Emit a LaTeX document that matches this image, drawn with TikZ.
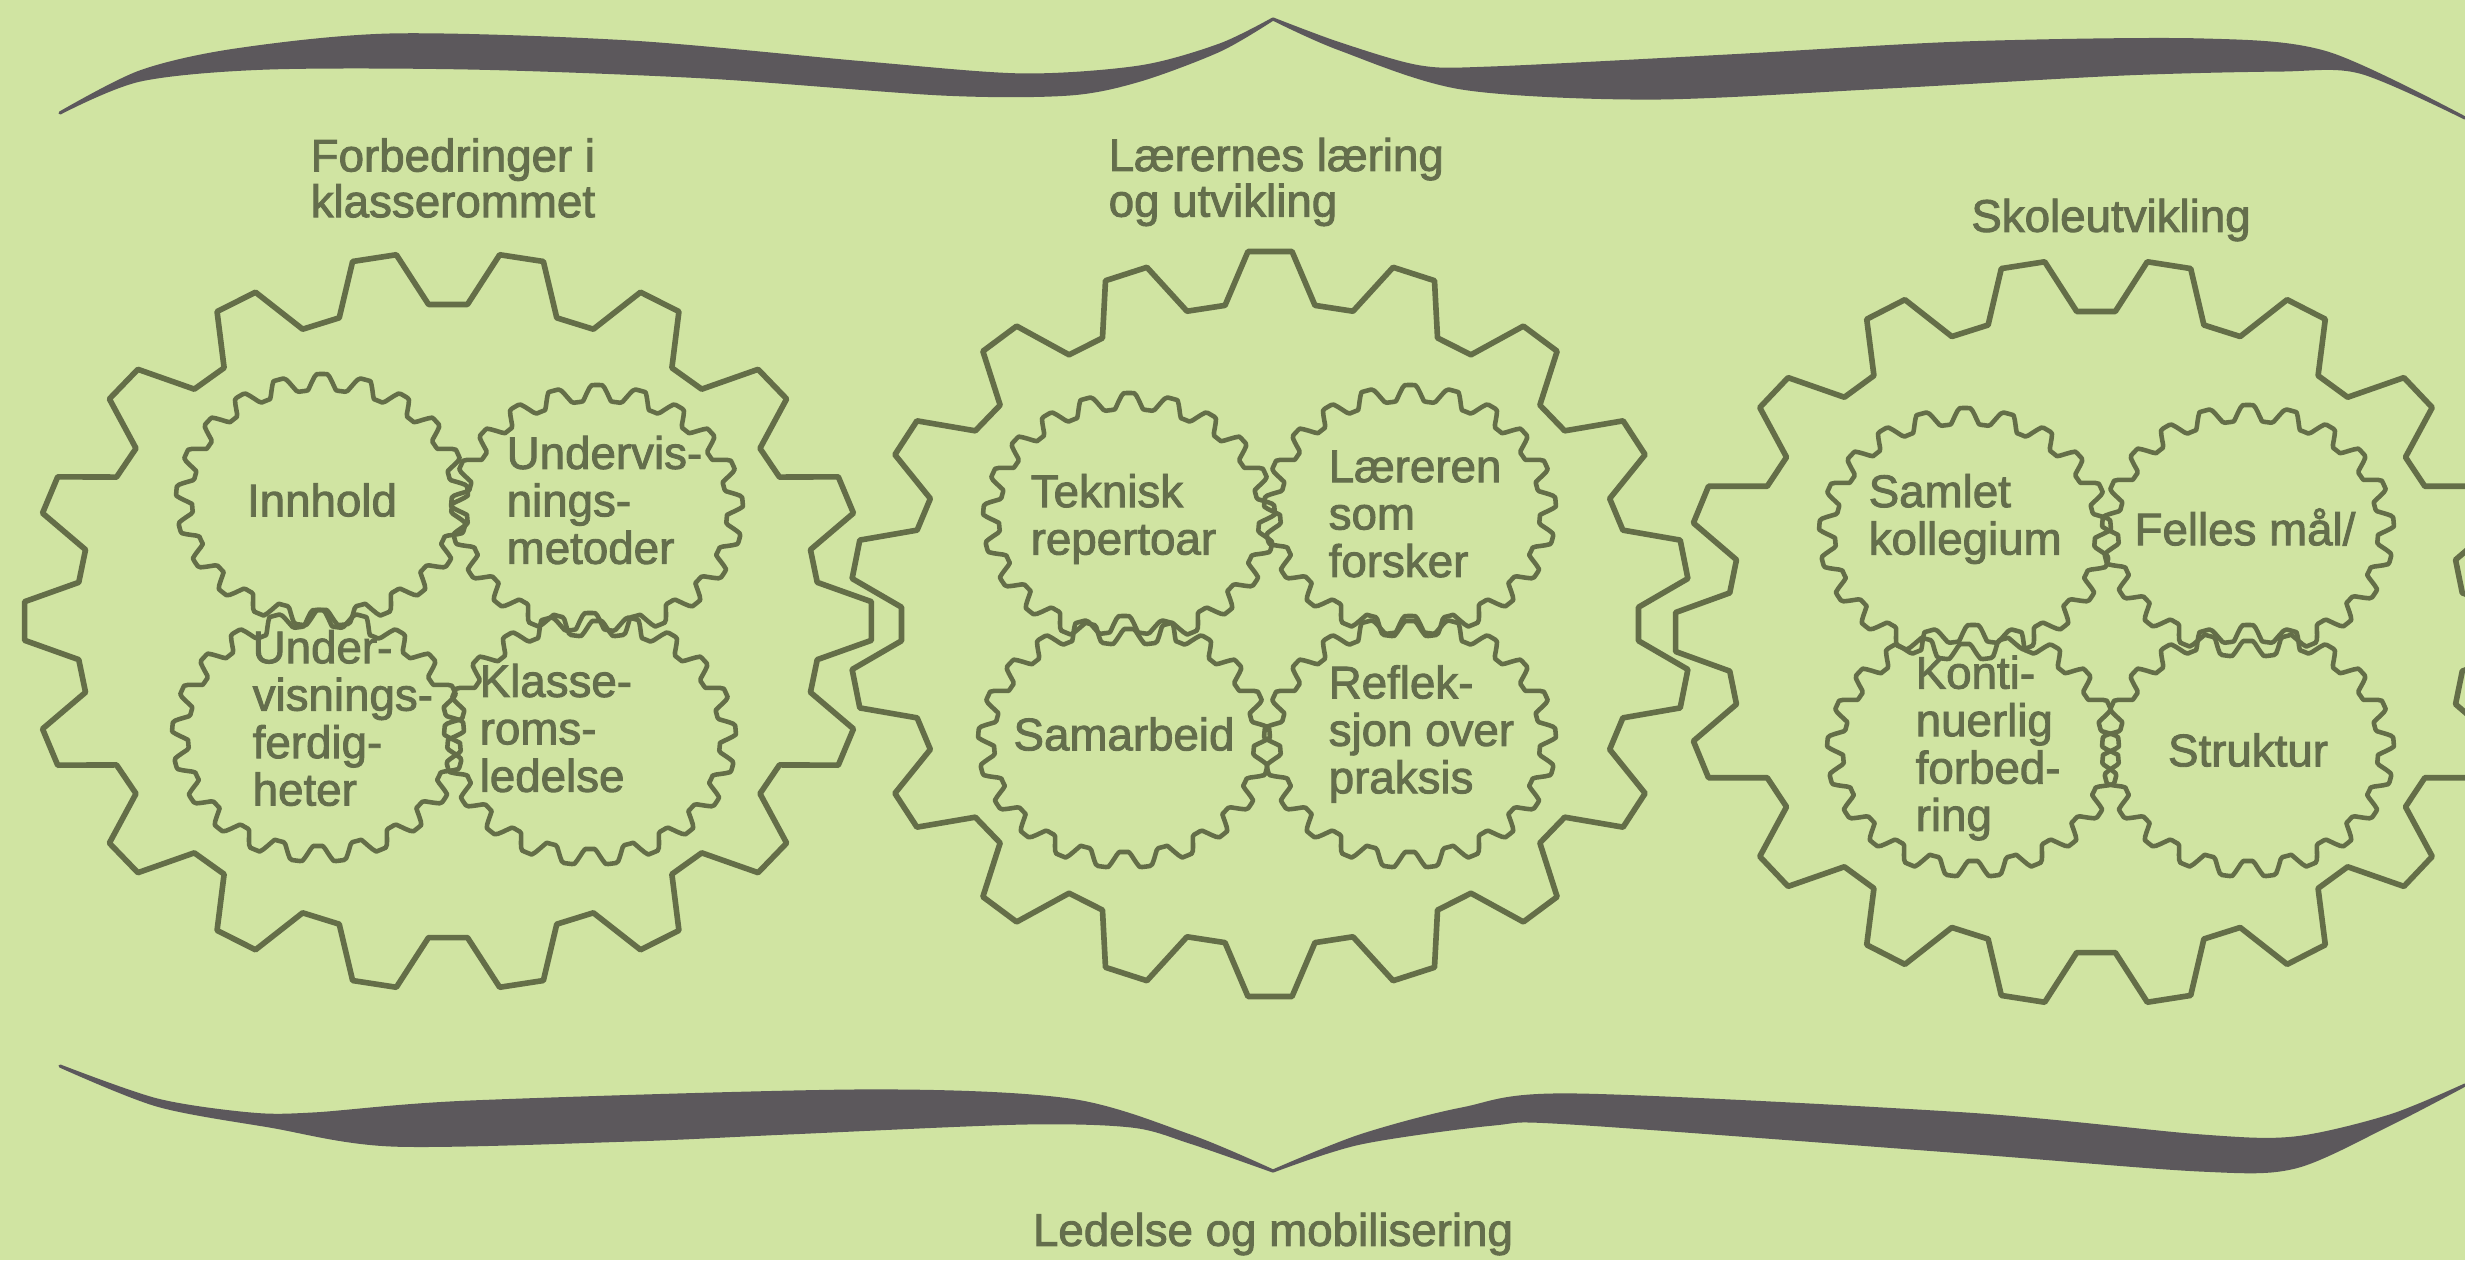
\documentclass[tikz,border=0pt]{standalone}
\usepackage{fontspec}
\setmainfont{Liberation Sans}
\newfontfamily\blurfont[FakeBold=2]{Liberation Sans}
\usetikzlibrary{positioning, calc}

\definecolor{bgcol}{RGB}{208,228,162}
\definecolor{inkcol}{RGB}{100,110,72}
\definecolor{textcol}{RGB}{100,110,76}
\definecolor{bracecol}{RGB}{92,88,92}

\tikzset{
  gearline/.style={draw=inkcol, line width=1.6pt, line join=round},
  cogline/.style={draw=inkcol, line width=1.3pt, line join=round},
  headtxt/.style={text=textcol, font=\blurfont\fontsize{13}{13}\selectfont, align=left, inner sep=0pt},
  cogtxt/.style={text=textcol, font=\blurfont\fontsize{13}{13.5}\selectfont, align=left, inner sep=0pt},
  bracefill/.style={fill=bracecol, draw=bracecol, line width=0.9pt, line join=round},
}

% big gear: centre x, centre y, x radius, y radius, offset angle
\newcommand{\biggear}[5]{%
  \pgfmathsetmacro\rxo{#3}\pgfmathsetmacro\ryo{#4}%
  \pgfmathsetmacro\rxi{#3-0.52}\pgfmathsetmacro\ryi{#4-0.52}%
  \begin{scope}[shift={(#1,#2)}]
    \draw[gearline] ({#5-7}:\rxi cm and \ryi cm)
      \foreach \a in {0,20,...,340}{
        -- ({#5+\a-7}:\rxi cm and \ryi cm) -- ({#5+\a-3}:\rxo cm and \ryo cm)
        -- ({#5+\a+3}:\rxo cm and \ryo cm) -- ({#5+\a+7}:\rxi cm and \ryi cm)
      } -- cycle;
  \end{scope}
}

\begin{document}
\begin{tikzpicture}
        % the background
        \useasboundingbox (0,0) rectangle (24.65,12.6);
        \fill[bgcol] (0,0) rectangle (24.65,12.6);
        \clip (0,0) rectangle (24.65,12.6);

        % top brace
        \filldraw[bracefill] plot[smooth] coordinates {(0.60,11.47) (1.40,11.88) (2.36,12.10) (3.93,12.25) (6.29,12.18) (8.65,11.97) (10.22,11.85) (11.40,11.93) (12.20,12.15) (12.73,12.41)}
          -- plot[smooth] coordinates {(12.73,12.41) (12.20,12.10) (11.40,11.80) (10.69,11.66) (9.43,11.66) (7.07,11.83) (4.72,11.92) (2.67,11.92) (1.40,11.80) (0.60,11.47)} -- cycle;
        \filldraw[bracefill] plot[smooth] coordinates {(12.73,12.41) (13.40,12.16) (14.20,11.93) (14.93,11.92) (17.29,12.04) (19.65,12.17) (22.01,12.20) (23.27,12.07) (24.65,11.42)}
          -- plot[smooth] coordinates {(24.65,11.42) (23.60,11.88) (22.79,11.90) (21.22,11.86) (18.86,11.73) (16.51,11.62) (14.62,11.72) (13.40,12.11) (12.73,12.41)} -- cycle;

        % bottom brace
        \filldraw[bracefill] plot[smooth] coordinates {(0.60,1.94) (1.57,1.60) (2.50,1.46) (3.14,1.46) (4.72,1.58) (8.65,1.69) (10.69,1.60) (11.90,1.24) (12.73,0.89)}
          -- plot[smooth] coordinates {(12.73,0.89) (11.90,1.18) (11.32,1.34) (10.22,1.37) (7.86,1.27) (6.29,1.20) (3.93,1.15) (2.70,1.34) (1.57,1.55) (0.60,1.94)} -- cycle;
        \filldraw[bracefill] plot[smooth] coordinates {(12.73,0.89) (13.60,1.24) (14.62,1.51) (15.72,1.65) (19.65,1.46) (22.01,1.24) (22.95,1.22) (23.90,1.44) (24.65,1.75)}
          -- plot[smooth] coordinates {(24.65,1.75) (23.90,1.36) (22.95,0.93) (22.01,0.90) (19.65,1.08) (15.72,1.37) (14.93,1.36) (13.60,1.17) (12.73,0.89)} -- cycle;

        % the big gears
        \biggear{4.48}{6.39}{4.24}{3.69}{0}
        \biggear{12.70}{6.36}{4.21}{3.73}{10}
        \biggear{20.96}{6.28}{4.21}{3.73}{0}

        % the small cogs
        \foreach \cx/\cy in {3.22/7.60, 5.97/7.49, 3.18/5.24, 5.90/5.21,
                             11.29/7.41, 14.10/7.49, 11.24/5.18, 14.10/5.18,
                             19.65/7.26, 22.48/7.29, 19.73/5.09, 22.48/5.09}
          \draw[cogline, shift={(\cx,\cy)}] plot[domain=0:360, samples=353]
            ({(1.38+0.08*min(1,max(-1,1.5*sin(21*\x))))*cos(\x)},
             {(1.18+0.08*min(1,max(-1,1.5*sin(21*\x))))*sin(\x)}) -- cycle;

        % headings
        \node[headtxt, anchor=west] (klasse) at (3.10,10.82) {Forbedringer i\\klasserommet};
        \node[headtxt, anchor=west] (laering) at (11.08,10.78) {Lærernes læring\\og utvikling};
        \node[headtxt] (skole) at (21.11,10.40) {Skoleutvikling};
        \node[headtxt] (mobil) at (12.73,0.26) {Ledelse og mobilisering};

        % texts in the cogs
        \node[cogtxt] (innhold) at (3.22,7.60) {Innhold};
        \node[cogtxt, anchor=west] (metoder) at (5.06,7.60) {Undervis-\\nings-\\metoder};
        \node[cogtxt, anchor=west] (ferdig) at (2.52,5.42) {Under-\\visnings-\\ferdig-\\heter};
        \node[cogtxt, anchor=west] (ledelse) at (4.79,5.32) {Klasse-\\roms-\\ledelse};
        \node[cogtxt, anchor=west] (teknisk) at (10.30,7.41) {Teknisk\\repertoar};
        \node[cogtxt, anchor=west] (forsker) at (13.28,7.46) {Læreren\\som\\forsker};
        \node[cogtxt] (samarb) at (11.24,5.26) {Samarbeid};
        \node[cogtxt, anchor=west] (refleks) at (13.28,5.26) {Reflek-\\sjon over\\praksis};
        \node[cogtxt, anchor=west] (kolleg) at (18.68,7.41) {Samlet\\kollegium};
        \node[cogtxt] (maal) at (22.45,7.33) {Felles mål/};
        \node[cogtxt, anchor=west] (forbedr) at (19.15,5.12) {Konti-\\nuerlig\\forbed-\\ring};
        \node[cogtxt] (struktur) at (22.48,5.10) {Struktur};
\end{tikzpicture}
\end{document}
